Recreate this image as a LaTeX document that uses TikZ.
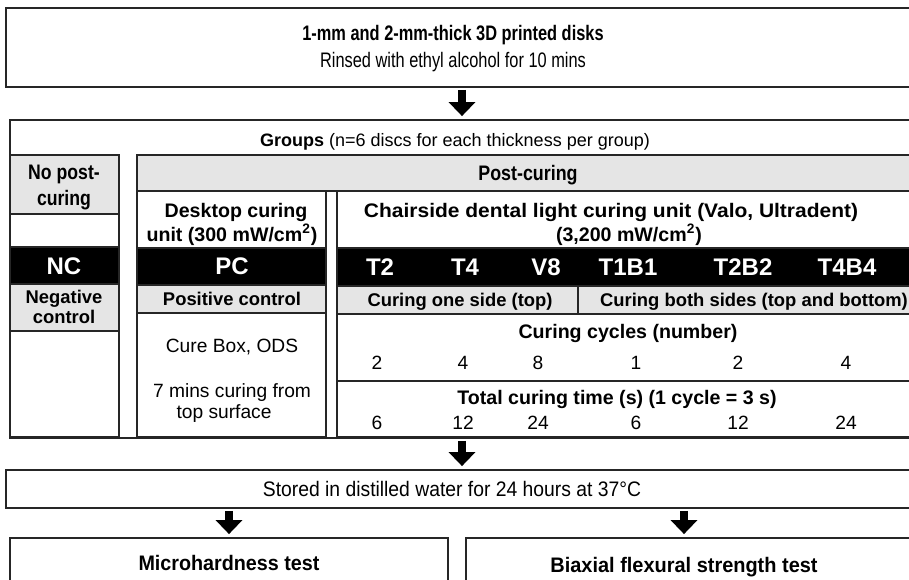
\documentclass[tikz,border=0pt]{standalone}
\usepackage{fontspec}
\setmainfont{Liberation Sans}
\usetikzlibrary{arrows.meta,positioning,fit}
\tikzset{
  frame/.style={draw=black!85, line width=0.9pt, inner sep=0pt},
  cell/.style={draw=black!85, line width=0.7pt},
  greycell/.style={cell, fill=black!10},
  darkcell/.style={cell, fill=black},
  head/.style={font=\fontsize{9.8}{11}\selectfont\bfseries, inner sep=0pt, text height=7pt, text depth=0pt},
  rowhead/.style={font=\fontsize{9.2}{11}\selectfont\bfseries, inner sep=0pt, text height=6.6pt, text depth=0pt},
  plain/.style={font=\fontsize{9.6}{11}\selectfont, inner sep=0pt, text height=6.9pt, text depth=0pt},
  narrowhead/.style={font=\fontsize{10.5}{12}\selectfont\bfseries, inner sep=0pt, text height=7.5pt, text depth=0pt},
  narrowplain/.style={font=\fontsize{10.5}{12}\selectfont, inner sep=0pt, text height=7.5pt, text depth=0pt},
  code/.style={font=\fontsize{12}{14}\selectfont\bfseries, text=white, inner sep=0pt, text height=8.6pt, text depth=0pt},
  flow/.style={-{Triangle[width=13pt,length=7pt]}, line width=4.4pt, shorten <=1pt, shorten >=1.5pt},
}
\newcommand{\cond}[2][0.78]{\scalebox{#1}[1]{#2}}

\begin{document}
\begin{tikzpicture}[x=0.5pt, y=-0.5pt]
  \path[use as bounding box, clip] (0,0) rectangle (909,579);
  % outer frames
  \node[frame, fit={(6,8) (918,87)}] (disks) {};
  \node[frame, fit={(10,120) (914,438)}] (groups) {};
  \node[frame, fit={(6,470) (918,508)}] (stored) {};
  \node[frame, fit={(10,538) (448,600)}] (micro) {};
  \node[frame, fit={(466,538) (920,600)}] (biax) {};
  \node[narrowhead] (diskstitle) at (453,33) {\cond{1-mm and 2-mm-thick 3D printed disks}};
  \node[narrowplain] (rinsed) at (453,60) {\cond{Rinsed with ethyl alcohol for 10 mins}};
  \node[head, font=\fontsize{9}{11}\selectfont\bfseries] (groupstitle) at (455,139)
    {Groups \mdseries(n=6 discs for each thickness per group)};
  % no post-curing column
  \draw[greycell] (10,155) rectangle (119,214);
  \draw[cell] (10,214) rectangle (119,247);
  \draw[darkcell] (10,247) rectangle (119,284);
  \draw[greycell] (10,284) rectangle (119,331);
  \draw[cell] (10,331) rectangle (119,437);
  \node[narrowhead] (nopost) at (64,172) {\cond[0.84]{No post-}};
  \node[narrowhead] (nopostb) at (64,198) {\cond[0.84]{curing}};
  \node[code] (nc) at (64,266) {NC};
  \node[rowhead] (neg) at (64,297) {Negative};
  \node[rowhead] (negb) at (64,317) {control};
  % post-curing header
  \draw[greycell] (137,155) rectangle (920,191);
  \node[narrowhead] (post) at (528,173) {\cond[0.85]{Post-curing}};
  % desktop curing unit
  \draw[cell] (137,191) rectangle (326,248);
  \draw[darkcell] (137,248) rectangle (326,285);
  \draw[greycell] (137,285) rectangle (326,313);
  \draw[cell] (137,313) rectangle (326,437);
  \node[head] (desk) at (236,210) {Desktop curing};
  \node[head] (deskb) at (232,234) {unit (300 mW/cm\textsuperscript{2})};
  \node[code] (pc) at (232,266) {PC};
  \node[rowhead] (pos) at (232,299) {Positive control};
  \node[plain] (curebox) at (232,346) {Cure Box, ODS};
  \node[plain] (mins) at (232,391) {7 mins curing from};
  \node[plain] (minsb) at (224,412) {top surface};
  % chairside unit
  \draw[cell] (337,191) rectangle (920,248);
  \draw[darkcell] (337,248) rectangle (920,286);
  \draw[greycell] (337,286) rectangle (578,314);
  \draw[greycell] (578,286) rectangle (920,314);
  \draw[cell] (337,314) rectangle (920,381);
  \draw[cell] (337,381) rectangle (920,437);
  \node[head] (chair) at (611,210) {\cond[1.07]{Chairside dental light curing unit (Valo, Ultradent)}};
  \node[head] (chairb) at (629,234) {(3,200 mW/cm\textsuperscript{2})};
  \foreach \name/\x in {T2/380, T4/465, V8/546, T1B1/628, T2B2/743, T4B4/847}
    \node[code] (g\name) at (\x,267) {\name};
  \node[rowhead] (oneside) at (460,300) {Curing one side (top)};
  \node[rowhead] (bothsides) at (754,300) {Curing both sides (top and bottom)};
  \node[head] (cycles) at (628,331) {Curing cycles (number)};
  \foreach \x/\n [count=\i] in {377/2, 463/4, 538/8, 636/1, 738/2, 846/4}
    \node[plain] (cyc\i) at (\x,363) {\n};
  \node[head] (total) at (617,397) {Total curing time (s) (1 cycle = 3 s)};
  \foreach \x/\n [count=\i] in {377/6, 463/12, 538/24, 636/6, 738/12, 846/24}
    \node[plain] (sec\i) at (\x,423) {\n};
  % storage and tests
  \node[narrowplain] (storedtext) at (452,489) {\cond[0.92]{Stored in distilled water for 24 hours at 37°C}};
  \node[narrowhead] (microtext) at (229,563) {\cond[0.94]{Microhardness test}};
  \node[narrowhead] (biaxtext) at (684,565) {\cond[0.95]{Biaxial flexural strength test}};
  % arrows
  \draw[flow] (disks.south) -- (groups.north);
  \draw[flow] (groups.south) -- (stored.north);
  \draw[flow] (stored.south -| micro.north) -- (micro.north);
  \draw[flow] (stored.south -| biaxtext) -- (biax.north -| biaxtext);
\end{tikzpicture}
\end{document}
